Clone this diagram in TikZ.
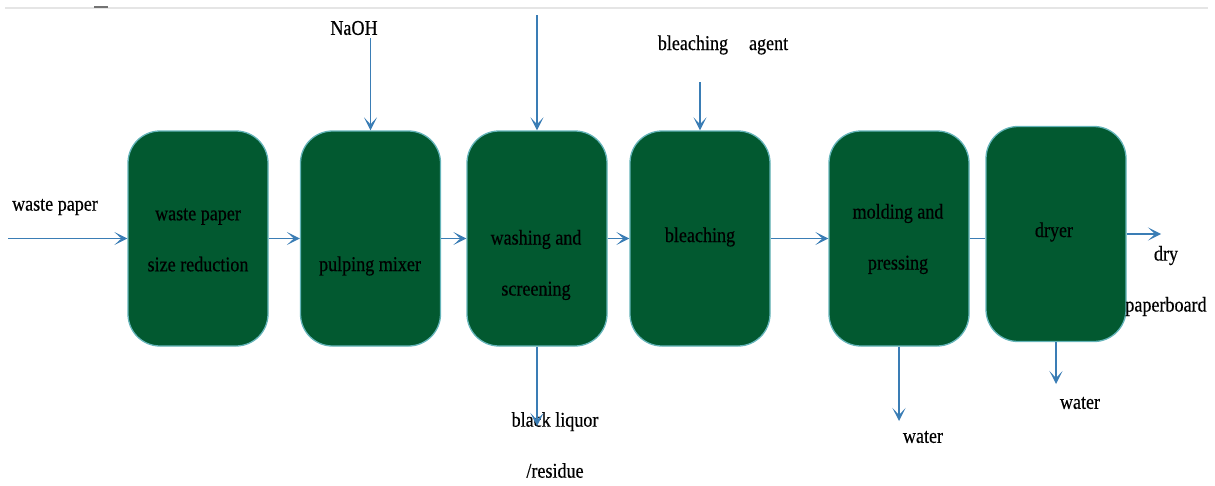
\documentclass[tikz,border=0pt]{standalone}
\usepackage{fontspec}
\setmainfont{Liberation Serif}[FakeStretch=0.86,FakeBold=0.4]
\usetikzlibrary{arrows.meta}
\definecolor{boxgreen}{RGB}{2,89,48}
\definecolor{boxedge}{RGB}{100,180,185}
\definecolor{flow}{RGB}{58,125,181}
\tikzset{
  stage/.style={draw=boxedge, line width=1.3pt, fill=boxgreen, rounded corners=32pt,
    minimum width=140pt, minimum height=215pt, inner sep=0pt},
  txt/.style={font=\fontsize{21}{51}\selectfont, align=center, inner sep=0pt},
  flowline/.style={draw=flow, line width=1.9pt},
  flowarrow/.style={flowline, -{Stealth[length=13pt,width=13pt,inset=7pt]}}
}
\begin{document}
\begin{tikzpicture}[x=1pt, y=-1pt]
\useasboundingbox (0,0) rectangle (1215,485);
% page rule at the top
\draw[black!10, line width=2pt] (5,8) -- (1208,8);
\draw[black!55, line width=2pt] (94,7) -- (108,7);

% process stages
\node[stage] (b1) at (198,238.5) {};
\node[stage] (b2) at (370.5,238.5) {};
\node[stage] (b3) at (537,238.5) {};
\node[stage] (b4) at (700,238.5) {};
\node[stage] (b5) at (899,238.5) {};
\node[stage] (b6) at (1056,234) {};

\node[txt] (t1) at (198,240) {waste paper\\size reduction};
\node[txt] (t2) at (370,266) {pulping mixer};
\node[txt] (t3) at (536,265) {washing and\\screening};
\node[txt] (t4) at (700,237) {bleaching};
\node[txt] (t5) at (898,239) {molding and\\pressing};
\node[txt] (t6) at (1054,232) {dryer};

% inputs and outputs
\node[txt] (lnaoh) at (354,28) {NaOH};
\node[txt] (lbleach) at (723,45) {bleaching\quad agent};
\node[txt] (lwaste) at (55,207) {waste paper};
\node[txt] (ldry) at (1166,281) {dry\\paperboard};
\node[txt] (lliq) at (555,445) {black liquor\\/residue};
\node[txt] (lw1) at (923,437) {water};
\node[txt] (lw2) at (1080,403) {water};

\coordinate (in) at (8,238.5);
\coordinate (naoh) at (370.5,38);
\coordinate (wash) at (537,15);
\coordinate (agent) at (700,82);
\coordinate (out) at (1161,234);
\coordinate (liq) at (537,426);
\coordinate (w1) at (899,421);
\coordinate (w2) at (1056,384);

% main flow
\draw[flowarrow] (in) -- (in -| b1.west);
\draw[flowarrow] (b1.east) -- (b2.west);
\draw[flowarrow] (b2.east) -- (b3.west);
\draw[flowarrow] (b3.east) -- (b4.west);
\draw[flowarrow] (b4.east) -- (b5.west);
\draw[flowline] (b5.east) -- (b5.east -| b6.west);
\draw[flowarrow] (b6.east) -- (out);

% feeds from above
\draw[flowarrow] (naoh) -- (b2.north);
\draw[flowarrow] (wash) -- (b3.north);
\draw[flowarrow] (agent) -- (b4.north);

% discharges below
\draw[flowarrow] (b3.south) -- (liq);
\draw[flowarrow] (b5.south) -- (w1);
\draw[flowarrow] (b6.south) -- (w2);
\end{tikzpicture}
\end{document}
